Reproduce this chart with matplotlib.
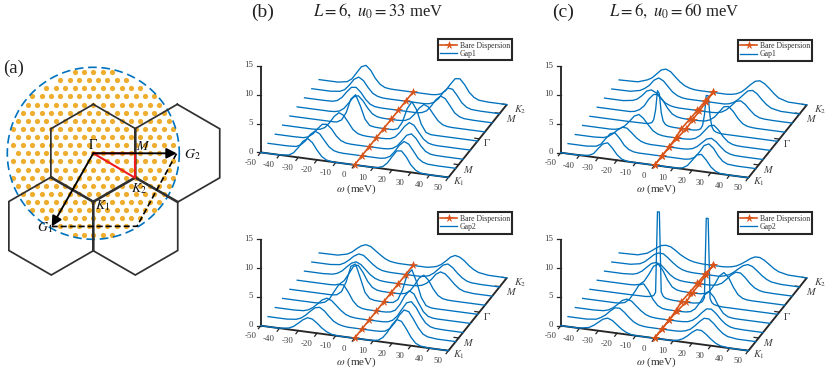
import numpy as np
import matplotlib
matplotlib.use("Agg")
import matplotlib.pyplot as plt
from matplotlib.transforms import Affine2D

plt.rcParams['font.family'] = ['Liberation Serif', 'DejaVu Serif']
plt.rcParams['mathtext.fontset'] = 'stix'

# ---------- data: spectral traces (k index 0..8, K1 -> K2) ----------
OMEGA_LEFT = [-50, -40, -35, -32.5, -30, -27.5, -25, -22.5, -20, -17.5, -15, -12.5, -10, -7.5, -5, -2.5]
OMEGA_RIGHT = [0, 2.5, 5, 7.5, 10, 12.5, 15, 17.5, 20, 22.5, 25, 27.5, 30, 32.5, 35, 40, 50]
OMEGA_SHARP = [-50, -30, -20, -19, -18, -17, -16, -15, -14, -13, -12, -11, -10, -9, -8, -7, -5, 0, 5,
               6, 7, 8, 9, 10, 11, 12, 13, 14, 15, 16, 17, 18, 19, 20, 30, 50]

b1_left = [
 [0,.2,.7,1.7,2.9,3.5,2.9,1.7,.7,.2,.05,0,0,0,0],
 [0,.1,.5,1.3,2.5,3.2,2.85,1.8,.8,.25,.06,0,0,0,0],
 [0,.05,.3,.9,1.9,2.8,2.9,2.2,1.1,.4,.1,.02,0,0,0],
 [0,0,.03,.15,.55,1.5,2.7,3.45,3.1,2,.85,.27,.07,0,0],
 [0,0,0,0,0,.05,.5,1.9,4.35,5.2,3.4,1.2,.2,.04,0],
 [0,0,0,.06,.26,.85,1.9,3,3.35,2.6,1.45,.55,.15,.03,0],
 [0,.05,.3,.95,2,2.9,3,2.25,1.15,.4,.1,.02,0,0,0],
 [0,.2,.6,1.5,2.6,3.1,2.6,1.5,.6,.2,.04,0,0,0,0],
 [0,.3,.9,2.05,3.2,3.55,2.8,1.5,.6,.15,.03,0,0,0,0]]
b1_right = [
 [0,0,0,0,.1,.36,1.1,2.3,3.4,3.5,2.6,1.3,.5,.12,0],
 [0,0,0,0,.15,.55,1.5,2.7,3.45,3.1,2,.85,.3,.07,0],
 [0,0,0,.06,.25,.8,1.8,2.85,3.2,2.5,1.35,.5,.13,.03,0],
 [0,.03,.15,.55,1.45,2.6,3.35,3,1.9,.85,.26,.06,0,0,0],
 [0,.02,.3,1.6,4,5.3,4,1.6,.3,.02,0,0,0,0,0],
 [0,.03,.15,.55,1.45,2.6,3.35,3,1.9,.85,.26,.06,0,0,0],
 [0,0,0,0,.15,.55,1.5,2.7,3.45,3.1,2,.85,.3,.07,0],
 [0,0,0,0,.1,.45,1.2,2.4,3.25,3.15,2.15,1,.35,.08,0],
 [0,0,0,0,.1,.35,1.05,2.25,3.3,3.4,2.5,1.25,.5,.12,0]]

b2_left = [
 [0,.25,.63,1.3,2,2.47,2.33,1.75,1.03,.5,.17,.05,0,0,0],
 [0,.18,.5,1.1,1.9,2.6,2.8,2.3,1.45,.7,.3,.1,0,0,0],
 [0,.1,.35,.85,1.6,2.4,2.8,2.5,1.75,1,.42,.14,.03,0,0],
 [0,0,0,.07,.33,1,2.4,3.7,3.75,2.6,1.2,.38,.08,0,0],
 [0,0,0,0,0,.14,.8,2.6,5.4,5.9,3.6,1.2,.24,.03,0],
 [0,0,0,.05,.3,1,2.3,3.7,4,2.9,1.45,.5,.12,.02,0],
 [0,.12,.38,.9,1.7,2.45,2.8,2.45,1.7,.9,.38,.12,.03,0,0],
 [0,.2,.6,1.25,2,2.48,2.35,1.7,1,.45,.15,.04,0,0,0],
 [.05,.45,.9,1.6,2.2,2.5,2.3,1.7,1.1,.55,.2,.07,0,0,0]]
b2_right = [
 [0,0,0,.05,.2,.75,1.8,3.2,4.2,4,2.85,1.5,.55,.17,0],
 [0,0,0,.05,.2,.77,1.85,3.3,4.3,4.1,2.9,1.55,.56,.17,0],
 [0,0,.02,.12,.5,1.35,2.65,3.85,4.15,3.25,1.9,.8,.25,.06,0],
 [0,.02,.15,.55,1.65,3.2,4.25,3.8,2.3,.95,.25,.05,0,0,0],
 [0,.1,.7,2.5,5.25,6.2,4.2,1.6,.33,.05,0,0,0,0,0],
 [0,.03,.2,.7,1.85,3.2,3.8,3,1.6,.6,.15,.03,0,0,0],
 [0,0,0,.06,.25,.7,1.45,2.5,3,2.75,2,1.15,.5,.17,0],
 [0,0,.02,.1,.35,.9,1.7,2.5,2.8,2.3,1.45,.75,.28,.08,0],
 [0,0,0,.15,.35,.8,1.5,2.3,2.7,2.5,1.95,1.2,.65,.28,.03]]

c1_left = [
 [0,.2,.6,1.6,2.5,2.8,2,.95,.3,.07,0,0,0,0,0],
 [0,.2,.65,1.7,2.7,2.95,2.1,1,.35,.08,0,0,0,0,0],
 [0,.12,.4,1,1.75,2.35,2.3,1.6,.85,.33,.09,0,0,0,0],
 [0,0,.09,.33,.9,1.8,2.8,3.2,2.6,1.6,.7,.24,.06,0,0],
 None,
 [0,0,0,.15,.55,1.3,2.6,3.5,3.6,2.7,1.45,.55,.17,.04,0],
 [0,.25,.6,1.3,2.2,2.5,2.1,1.25,.55,.2,.05,0,0,0,0],
 [.04,.4,.85,1.5,2.5,3,2.6,1.7,.85,.35,.1,0,0,0,0],
 [.1,.65,1.1,1.9,2.7,2.95,2.6,1.8,1.05,.5,.2,.05,0,0,0]]
c1_right = [
 [0,0,0,0,.04,.2,.7,1.7,2.75,2.95,2.1,1,.35,.08,0],
 [0,0,0,0,0,.15,.55,1.55,2.8,3.2,2.55,1.35,.5,.12,0],
 [0,0,0,.07,.27,.75,1.5,2.25,2.48,2,1.2,.5,.17,.04,0],
 [0,.02,.1,.35,.95,1.9,2.85,3.05,2.3,1.25,.5,.15,.03,0,0],
 None,
 [0,.03,.1,.4,1,2,3,3.15,2.4,1.3,.5,.15,.04,0,0],
 [0,0,0,.08,.3,.8,1.6,2.45,2.68,2.15,1.3,.55,.18,.05,0],
 [0,0,0,0,.15,.5,1.15,2,2.8,3,2.5,1.6,.85,.35,.02],
 [0,0,0,.1,.3,.7,1.4,2.2,2.9,3.1,2.7,2,1.2,.55,.06]]
c1_sharp = [0,0,.05,.1,.2,.35,.9,2.6,6,5.5,2.3,.9,.4,.2,.1,.05,0,0,0,
            .05,.1,.2,.4,1,2.8,6.3,6.3,2.8,1,.4,.2,.1,.05,0,0,0]

c2_left = [
 [.02,.34,.8,1.45,2.1,2.4,2.1,1.45,.8,.34,.1,0,0,0,0],
 [0,.2,.6,1.15,1.95,2.6,2.65,2.05,1.25,.6,.22,.06,0,0,0],
 [0,.1,.33,.8,1.5,2.3,2.65,2.4,1.65,.95,.4,.13,.03,0,0],
 [0,0,0,.05,.27,.95,2.2,3.6,3.95,2.9,1.45,.5,.1,0,0],
 None,
 [0,0,0,.05,.25,.9,2.2,3.7,4.2,3.2,1.65,.55,.14,.02,0],
 [0,.12,.36,.87,1.65,2.4,2.7,2.4,1.65,.87,.36,.12,.03,0,0],
 [.04,.35,.8,1.5,2.25,2.65,2.6,2,1.3,.7,.3,.1,.02,0,0],
 [.1,.6,1.15,1.75,2.25,2.4,2.25,1.75,1.15,.7,.35,.15,.05,0,0]]
c2_right = [
 [0,0,0,.06,.2,.55,1.15,1.9,2.45,2.42,1.85,1.15,.55,.2,.01],
 [0,0,0,.06,.25,.6,1.3,2.15,2.85,2.85,2.2,1.35,.65,.23,0],
 [0,0,.04,.15,.5,1.15,2.05,2.8,2.85,2.2,1.3,.6,.2,.05,0],
 [0,.03,.2,.8,2,3.45,4.1,3.25,1.75,.65,.16,.03,0,0,0],
 None,
 [0,.03,.2,.75,1.95,3.5,4.25,3.5,1.95,.75,.2,.03,0,0,0],
 [0,0,.05,.2,.6,1.4,2.25,2.85,2.8,2.1,1.2,.55,.2,.05,0],
 [0,0,0,.2,.5,1.05,1.75,2.4,2.7,2.45,1.8,1.1,.55,.22,.02],
 [0,0,.06,.2,.45,.9,1.45,2.05,2.45,2.45,2.05,1.45,.85,.42,.06]]
c2_sharp = [0,0,.05,.1,.15,.25,.4,1,15,15,1.2,.5,.25,.15,.1,.05,0,0,0,
            .05,.1,.15,.25,.5,1.2,15,15,1.2,.5,.25,.15,.1,.05,0,0,0]

K_INDEX = [0, 1, 2, 3, 4, 5, 6, 7, 8]
bare_single = [0, 0, 0, 0, 0, 0, 0, 0, 0]
bare_lower = [0, 0, 0, -.4, -1.2, -.8, -.6, -.4, 0]
bare_upper = [0, 0, 0, .4, 1.2, .8, .6, .4, 0]

omega_ticks = [-50, -40, -30, -20, -10, 0, 10, 20, 30, 40, 50]
z_ticks = [0, 5, 10, 15]
k_tick_pos = [0, 1.4, 4.24, 7.04, 8]
k_tick_labels = ['$K_1$', '$M$', r'$\Gamma$', '$M$', '$K_2$']
k_label_off = [(10, 4), (10, 5), (8, 4), (12, 5), (13, 5)]

BLUE = '#0072BD'
ORANGE = '#D95319'
DARK = '#262626'
W, H = 830, 375

fig = plt.figure(figsize=(8.3, 3.75), dpi=100)


def pixel_axes(x0, y0, x1, y1):
    ax = fig.add_axes([x0 / W, 1 - y1 / H, (x1 - x0) / W, (y1 - y0) / H])
    ax.set_xlim(x0, x1)
    ax.set_ylim(y1, y0)
    ax.axis('off')
    return ax


SX, SY, KX, KY, ZY = 1.877, 0.25, 7.3, -9.1, -5.77


def draw_panel(rect, x0, y0, left, right, sharp, bares, gap_label):
    ax = pixel_axes(*rect)

    def trace_tf(i):   # (omega, z) on trace i -> pixels
        return Affine2D.from_values(SX, SY, 0, ZY, x0 + 50 * SX + KX * i, y0 + 50 * SY + KY * i) + ax.transData

    floor_tf = Affine2D.from_values(SX, SY, KX, KY, x0 + 50 * SX, y0 + 50 * SY) + ax.transData  # (omega, k)

    def px(om, k=0, z=0):
        return x0 + SX * (om + 50) + KX * k, y0 + SY * (om + 50) + KY * k + ZY * z

    # axis lines
    for a, b in [((-50, 0, 0), (50, 0, 0)), ((50, 0, 0), (50, 8, 0)), ((-50, 0, 0), (-50, 0, 15))]:
        p, q = px(*a), px(*b)
        ax.plot([p[0], q[0]], [p[1], q[1]], color=DARK, lw=1.35, clip_on=False, solid_capstyle='butt', zorder=1)
    for om in omega_ticks:
        p = px(om)
        ax.plot([p[0], p[0] - 2.3], [p[1], p[1] + 3], color=DARK, lw=0.9, clip_on=False, zorder=1)
        ax.text(p[0] - 10.5, p[1] + 10.5, str(om), ha='center', va='center', fontsize=6.4, color='#404040', clip_on=False)
    for z in z_ticks:
        p = px(-50, 0, z)
        ax.plot([p[0] - 3.5, p[0]], [p[1], p[1]], color=DARK, lw=0.9, clip_on=False, zorder=1)
        ax.text(p[0] - 7.5, p[1] - 0.5, str(z), ha='right', va='center', fontsize=6.4, color='#404040', clip_on=False)
    for k, lab, off in zip(k_tick_pos, k_tick_labels, k_label_off):
        p = px(50, k)
        ax.plot([p[0] - 4.5, p[0]], [p[1] - 0.6, p[1]], color=DARK, lw=0.9, clip_on=False, zorder=1)
        ax.text(p[0] + off[0], p[1] + off[1], lab, ha='center', va='center', fontsize=7.5, color='#404040', clip_on=False)
    p = px(0)
    ax.text(p[0] + 1.5, p[1] + 24.5, r'$\omega$ (meV)', ha='center', va='center', fontsize=8, color='#303030', clip_on=False)

    # traces
    first_trace = None
    for i in K_INDEX:
        if left[i] is None:
            om, val = OMEGA_SHARP, sharp
        else:
            om = OMEGA_LEFT + OMEGA_RIGHT
            val = [0] + left[i] + [0] + right[i] + [0]
        ln, = ax.plot(om, val, color=BLUE, lw=0.95, transform=trace_tf(i), clip_on=False, zorder=2,
                      solid_joinstyle='round')
        if first_trace is None:
            first_trace = ln

    # bare dispersion
    first_bare = None
    for b in bares:
        ln, = ax.plot(b, K_INDEX, color=ORANGE, lw=1.2, marker='*', ms=5.4, mec=ORANGE, mfc=ORANGE, mew=0.4,
                      transform=floor_tf, clip_on=False, zorder=3)
        if first_bare is None:
            first_bare = ln

    leg = ax.legend([first_bare, first_trace], ['Bare Dispersion', gap_label],
                    loc='upper right', bbox_to_anchor=((x0 + 251.6) / W, 1 - (y0 - 113.2) / H),
                    bbox_transform=fig.transFigure, borderaxespad=0, fontsize=5.6, frameon=True, fancybox=False,
                    edgecolor=DARK, framealpha=1, handlelength=2.2, handletextpad=0.35, labelspacing=0.05,
                    borderpad=0.3, numpoints=1)
    leg.get_frame().set_linewidth(1.5)
    for t in leg.get_texts():
        t.set_color('#303030')
    return ax


axb1 = draw_panel((232, 30, 530, 195), 260.7, 152.4, b1_left, b1_right, None, [bare_single], 'Gap1')
axb2 = draw_panel((232, 203, 530, 375), 260.7, 325.7, b2_left, b2_right, None, [bare_single], 'Gap2')
axc1 = draw_panel((532, 30, 830, 195), 560.7, 152.7, c1_left, c1_right, c1_sharp, [bare_lower, bare_upper], 'Gap1')
axc2 = draw_panel((532, 203, 830, 375), 560.7, 325.7, c2_left, c2_right, c2_sharp, [bare_lower, bare_upper], 'Gap2')

# ---------- panel (a): schematic ----------
axa = pixel_axes(0, 50, 232, 285)
cx, cy = 93.3, 153.3
R_BZ, R_DOTS = 49.0, 86.0
DX, DY = 9.4, 8.13
gx, gy = [], []
for r in range(-11, 12):
    for c in range(-10, 11):
        x = cx + DX * (c + 0.5 * (r % 2))
        y = cy + DY * r
        if (x - cx) ** 2 + (y - cy) ** 2 <= 84.5 ** 2:
            gx.append(x)
            gy.append(y)
axa.scatter(gx, gy, s=14, color='#EEAD2D', linewidths=0, zorder=1)
theta = np.linspace(0, 2 * np.pi, 300)
axa.plot(cx + R_DOTS * np.cos(theta), cy + R_DOTS * np.sin(theta), color=BLUE, lw=1.2,
         dashes=(5.2, 2.8), zorder=2, clip_on=False)

hex_angles = np.deg2rad([90, 30, -30, -90, -150, 150, 90])
hex_centers = [(cx, cy), (cx + 84.0, cy), (cx - 42.0, cy + 72.7), (cx + 42.0, cy + 72.7)]
for hx, hy in hex_centers:
    axa.plot(hx + R_BZ * np.cos(hex_angles), hy - R_BZ * np.sin(hex_angles), color='#303030', lw=1.25,
             zorder=3, clip_on=False, solid_joinstyle='miter')

gamma = (cx, cy)
m_pt = (135.0, cy)
k2_pt = (135.0, 177.8)
g1_pt = (51.7, 226.5)
g2_pt = (176.7, cy)
corner = (137.0, 226.3)
axa.plot([gamma[0], m_pt[0], k2_pt[0], gamma[0]], [gamma[1], m_pt[1], k2_pt[1], gamma[1]],
         color='#EE1C1C', lw=1.5, zorder=4)
axa.plot([g1_pt[0], corner[0], g2_pt[0]], [g1_pt[1], corner[1], g2_pt[1]], color='black', lw=1.2,
         dashes=(3.6, 1.8), zorder=4)
for tip in (g1_pt, g2_pt):
    axa.annotate('', xy=tip, xytext=gamma, zorder=5,
                 arrowprops=dict(arrowstyle='-|>,head_length=0.55,head_width=0.28', color='black', lw=1.35,
                                 shrinkA=0, shrinkB=0, mutation_scale=11))
for txt, x, y in [(r'$\Gamma$', 92.5, 145), ('$M$', 143, 146.5), ('$G_2$', 192, 155), ('$K_2$', 139, 188.5),
                  ('$K_1$', 103, 206), ('$G_1$', 45, 228)]:
    axa.text(x, y, txt, ha='center', va='center', fontsize=10, zorder=6, color='#111111')
axa.text(14, 68, '(a)', ha='center', va='center', fontsize=13.5, color='#222222', zorder=6)

# ---------- panel headings ----------
fig.text(263 / W, 1 - 12 / H, '(b)', ha='center', va='center', fontsize=14, color='#222222')
fig.text(378 / W, 1 - 11 / H, r'$L=6,\ u_0=33$ meV', ha='center', va='center', fontsize=12, color='#222222')
fig.text(563 / W, 1 - 12 / H, '(c)', ha='center', va='center', fontsize=14, color='#222222')
fig.text(674 / W, 1 - 11 / H, r'$L=6,\ u_0=60$ meV', ha='center', va='center', fontsize=12, color='#222222')

fig.savefig('out.png', dpi=100)
